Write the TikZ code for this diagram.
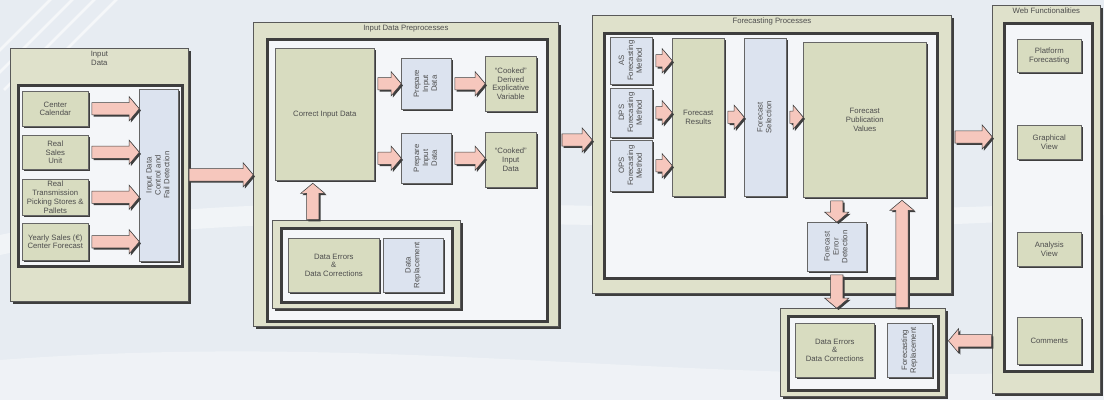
\documentclass[tikz,border=0pt]{standalone}
\usepackage{fontspec}
\setmainfont{Liberation Sans}
\usetikzlibrary{arrows,calc,shapes.arrows,shadows}
\definecolor{bgblue}{HTML}{E7ECF2}
\definecolor{panelbeige}{HTML}{DFE1CB}
\definecolor{boxkhaki}{HTML}{D8DCC0}
\definecolor{boxblue}{HTML}{DCE3EF}
\definecolor{framewhite}{HTML}{F4F6F9}
\definecolor{arrowpink}{HTML}{F6C7BD}
\definecolor{darkedge}{HTML}{3E3E3E}
\definecolor{txtgray}{HTML}{4D4D4D}
\newcommand{\vtext}[1]{\rotatebox{90}{\begin{tabular}{@{}c@{}}#1\end{tabular}}}
\newcommand{\fatarrow}[2]{%
  \path let \p1=(#1), \p2=(#2), \n1={veclen(\x2-\x1,\y2-\y1)}, \n2={atan2(\y2-\y1,\x2-\x1)} in
    node[fat, minimum height=\n1, rotate=\n2, anchor=tail] at (\p1) {};}
\tikzset{
  every node/.style={font=\fontsize{5.5}{6.3}\selectfont, text=txtgray, align=center},
  sz/.style 2 args={minimum width={#1*0.025cm}, minimum height={#2*0.025cm}},
  panel/.style={draw=black!65, line width=0.5pt, fill=panelbeige, anchor=north west, inner sep=0pt,
    drop shadow={shadow xshift=1.8pt, shadow yshift=-1.8pt, fill=darkedge, opacity=1}},
  frame/.style={draw=darkedge, line width=1.8pt, fill=framewhite, anchor=north west, inner sep=0pt},
  kbox/.style={draw=black!60, line width=0.4pt, fill=boxkhaki, anchor=north west, inner sep=0.5pt,
    drop shadow={shadow xshift=1.5pt, shadow yshift=-1.5pt, fill=darkedge, opacity=1}},
  bbox/.style={kbox, fill=boxblue},
  fat/.style={single arrow, draw=black!75, line width=0.4pt, fill=arrowpink, inner xsep=0pt,
    inner ysep=4.2pt, minimum width=0pt, text height=0pt, text depth=0pt,
    single arrow head extend=4.2pt, single arrow tip angle=100,
    drop shadow={shadow xshift=1.2pt, shadow yshift=-1.2pt, fill=darkedge, opacity=1}},
  ptitle/.style={anchor=north, inner sep=2pt}
}
\begin{document}
\begin{tikzpicture}[x=0.025cm,y=-0.025cm]
\fill[bgblue] (0,0) rectangle (1104,400);
\useasboundingbox (0,0) rectangle (1104,400);
\foreach \d in {0,22,44,66}
  \draw[white, line width=2pt, opacity=.6] (\d-40,90) -- (\d+60,-10);
\fill[white, opacity=.45] (0,235) .. controls (300,170) and (700,230) .. (1104,200)
  -- (1104,215) .. controls (700,250) and (300,190) .. (0,255) -- cycle;
\fill[white, opacity=.35] (0,360) .. controls (400,330) and (700,390) .. (1104,370) -- (1104,400) -- (0,400) -- cycle;

\node[panel, sz={178}{253}, label={[ptitle]north:{Input\\Data}}] (p1) at (10,48) {};
\node[frame, sz={164}{181}] (f1) at (17,84) {};
\node[kbox, sz={66}{35}] (cal) at (22,91) {Center\\Calendar};
\node[kbox, sz={66}{34}] (sal) at (22,135) {Real\\Sales\\Unit};
\node[kbox, sz={66}{36}] (tra) at (22,179) {Real\\Transmission\\Picking Stores \&\\Pallets};
\node[kbox, sz={66}{37}] (yea) at (22,223) {Yearly Sales (€)\\Center Forecast};
\node[bbox, sz={39}{172}] (ctl) at (139,89) {\vtext{Input Data\\Control and\\Fail Detection}};
\foreach \s in {cal,sal,tra,yea}
  \fatarrow{$(\s.east)+(3,0)$}{ctl.west |- \s.east};

\node[panel, sz={305}{304}, label={[ptitle]north:Input Data Preprocesses}] (p2) at (253,22) {};
\node[frame, sz={280}{282}] (f2) at (266,38) {};
\node[kbox, sz={99}{132}] (corr) at (275,48) {Correct Input Data};
\node[bbox, sz={50}{51}] (prep1) at (401,58) {\vtext{Prepare\\Input\\Data}};
\node[bbox, sz={50}{50}] (prep2) at (401,133) {\vtext{Prepare\\Input\\Data}};
\node[kbox, sz={51}{55}] (ck1) at (485,56) {“Cooked”\\Derived\\Explicative\\Variable};
\node[kbox, sz={51}{55}] (ck2) at (485,132) {“Cooked”\\Input\\Data};
\node[panel, sz={188}{88}] (sp) at (272,220) {};
\node[frame, sz={171}{74}] (sf) at (280,227) {};
\node[kbox, sz={91}{54}] (derr) at (288,238) {Data Errors\\\&\\Data Corrections};
\node[bbox, sz={60}{54}] (drep) at (383,238) {\vtext{Data\\Replacement}};
\fatarrow{p1.east}{p2.west |- p1.east};
\fatarrow{$(corr.east |- prep1.west)+(3,0)$}{prep1.west};
\fatarrow{$(corr.east |- prep2.west)+(3,0)$}{prep2.west};
\fatarrow{$(prep1.east)+(3,0)$}{ck1.west |- prep1.east};
\fatarrow{$(prep2.east)+(3,0)$}{ck2.west |- prep2.east};
\coordinate (cu) at ($(corr.south)+(-12,0)$);
\fatarrow{cu |- sp.north}{$(cu)+(0,3)$};

\node[panel, sz={359}{278}, label={[ptitle]north:Forecasting Processes}] (p3) at (592,15) {};
\node[frame, sz={333}{245}] (f3) at (603,32) {};
\node[bbox, sz={42}{47}] (as) at (610,37) {\vtext{AS\\Forecasting\\Method}};
\node[bbox, sz={42}{49}] (dps) at (610,88) {\vtext{DPS\\Forecasting\\Method}};
\node[bbox, sz={42}{51}] (ops) at (610,140) {\vtext{OPS\\Forecasting\\Method}};
\node[kbox, sz={52}{158}] (fres) at (672,38) {Forecast\\Results};
\node[bbox, sz={42}{158}] (fsel) at (744,38) {\vtext{Forecast\\Selection}};
\node[kbox, sz={123}{155}] (pub) at (803,42) {Forecast\\Publication\\Values};
\node[bbox, sz={59}{49}] (err) at (807,222) {\vtext{Forecast\\Error\\Detection}};
\coordinate (a23) at (575,140);
\fatarrow{$(p2.east |- a23)+(3,0)$}{p3.west |- a23};
\foreach \m in {as,dps,ops}
  \fatarrow{$(\m.east)+(3,0)$}{fres.west |- \m.east};
\fatarrow{$(fres.east)+(3,0)$}{fsel.west |- fres.east};
\fatarrow{$(fsel.east)+(3,0)$}{pub.west |- fsel.east};
\fatarrow{$(err.north |- pub.south)+(0,3)$}{err.north};

\node[panel, sz={165}{88}] (bp) at (780,308) {};
\node[frame, sz={150}{74}] (bf) at (787,315) {};
\node[kbox, sz={79}{54}] (berr) at (795,323) {Data Errors\\\&\\Data Corrections};
\node[bbox, sz={45}{54}] (brep) at (887,323) {\vtext{Forecasting\\Replacement}};
\fatarrow{$(err.south)+(0,3)$}{bp.north -| err.south};
\coordinate (upx) at (902,0);
\fatarrow{bp.north -| upx}{$(pub.south -| upx)+(0,3)$};

\node[panel, sz={108}{388}, label={[ptitle]north:Web Functionalities}] (web) at (992,5) {};
\node[frame, sz={88}{348}] (wf) at (1003,22) {};
\node[kbox, sz={64}{33}] (plat) at (1017,39) {Platform\\Forecasting};
\node[kbox, sz={64}{34}] (graph) at (1017,125) {Graphical\\View};
\node[kbox, sz={64}{34}] (anal) at (1017,232) {Analysis\\View};
\node[kbox, sz={64}{47}] (com) at (1017,317) {Comments};
\coordinate (a34) at (0,137);
\fatarrow{$(p3.east |- a34)+(3,0)$}{web.west |- a34};
\fatarrow{web.west |- com.west}{$(bp.east |- com.west)+(3,0)$};
\end{tikzpicture}
\end{document}
